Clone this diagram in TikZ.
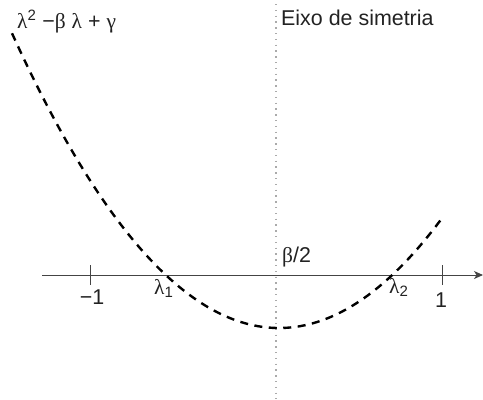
\documentclass[tikz,border=0pt]{standalone}
\usepackage{fontspec}
\setmainfont{Liberation Sans}
\newfontfamily\grk{Liberation Serif}
\usetikzlibrary{arrows.meta}
\definecolor{txt}{HTML}{222222}
\definecolor{axc}{HTML}{444444}
\definecolor{dotc}{HTML}{AAAAAA}
\newcommand{\gl}[1]{{\grk #1}}
\tikzset{
  lbl/.style={inner sep=0pt, text=txt, font=\fontsize{21.5}{25}\selectfont},
  axisline/.style={draw=axc, line width=0.9bp},
  tickline/.style={draw=axc, line width=0.9bp},
  symline/.style={draw=dotc, line width=1.3bp, dash pattern=on 1.3bp off 4.5bp},
  curve/.style={draw=black, line width=2.4bp, dash pattern=on 8bp off 6.5bp}
}
\begin{document}
\begin{tikzpicture}[x=1bp,y=-1bp]
\useasboundingbox (0,0) rectangle (483,399);
% axis of symmetry
\coordinate (s0) at (276,4);
\coordinate (s1) at (276,399);
\draw[symline] (s0) -- (s1);
% horizontal axis
\coordinate (ax0) at (42,275);
\coordinate (ax1) at (483,275);
\draw[axisline, -{Stealth[length=9bp,width=8bp,inset=2.5bp]}] (ax0) -- (ax1);
% ticks
\coordinate (t1a) at (90,265); \coordinate (t1b) at (90,285);
\coordinate (t2a) at (442,265); \coordinate (t2b) at (442,285);
\draw[tickline] (t1a) -- (t1b);
\draw[tickline] (t2a) -- (t2b);
% parabola
\draw[curve] plot[domain=12:443, samples=120] (\x, {328-((\x-279)*0.0643)^2});
% labels
\node[lbl, anchor=base west] (f) at (17,28) {\gl{λ}\textsuperscript{2} −\gl{β} \gl{λ} + \gl{γ}};
\node[lbl, anchor=base west] (eixo) at (281,25) {Eixo de simetria};
\node[lbl, anchor=base west] (b2) at (282,262) {\gl{β}/2};
\node[lbl, anchor=base] (m1) at (92,304) {−1};
\node[lbl, anchor=base] (p1) at (441,307) {1};
\node[lbl, anchor=base west] (l1) at (154,294) {\gl{λ}\textsubscript{1}};
\node[lbl, anchor=base west] (l2) at (389,293) {\gl{λ}\textsubscript{2}};
\end{tikzpicture}
\end{document}
